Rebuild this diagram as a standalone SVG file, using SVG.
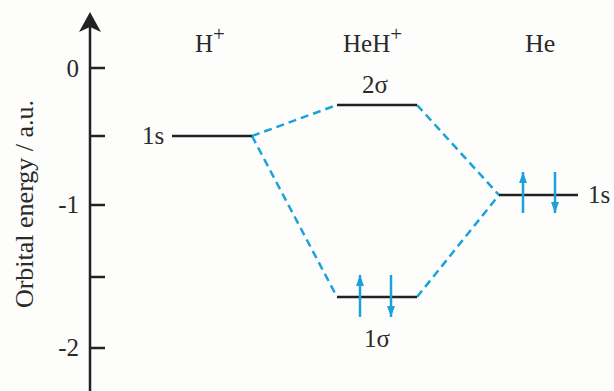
<svg xmlns="http://www.w3.org/2000/svg" width="614" height="391" viewBox="0 0 614 391">
<defs>
<style>
.t{font-family:"Liberation Serif","Times New Roman",serif;font-size:25px;fill:#2a2a2a}
.lvl{stroke:#222;stroke-width:2.5;fill:none}
.ax{stroke:#222;stroke-width:2.5;fill:none}
.dash{stroke:#1ca2da;stroke-width:2.5;stroke-dasharray:8 5;fill:none}
.e{stroke:#1ca2da;stroke-width:2.5;fill:none;marker-end:url(#ah)}
</style>
<marker id="ah" markerUnits="userSpaceOnUse" markerWidth="12" markerHeight="10" refX="11" refY="4" orient="auto">
<path d="M0,0 L11,4 L0,8 Z" fill="#1ca2da"/>
</marker>
</defs>
<rect width="614" height="391" fill="#fdfdfc"/>
<g id="axis">
<line class="ax" x1="90" y1="24" x2="90" y2="391"/>
<path d="M90,12 L101,32 L90,27 L79,32 Z" fill="#222"/>
<line class="ax" x1="90" y1="68" x2="105" y2="68"/>
<line class="ax" x1="90" y1="136" x2="105" y2="136"/>
<line class="ax" x1="90" y1="205" x2="105" y2="205"/>
<line class="ax" x1="90" y1="277" x2="105" y2="277"/>
<line class="ax" x1="90" y1="348" x2="105" y2="348"/>
<text class="t" x="79" y="77" text-anchor="end">0</text>
<text class="t" x="79" y="213" text-anchor="end">-1</text>
<text class="t" x="79" y="356" text-anchor="end">-2</text>
<text class="t" style="font-size:26px" transform="translate(33,204) rotate(-90)" text-anchor="middle">Orbital energy / a.u.</text>
</g>
<g id="headers">
<text class="t" x="195" y="52">H<tspan dy="-11" style="font-size:21px">+</tspan></text>
<text class="t" x="343" y="52">HeH<tspan dy="-11" style="font-size:21px">+</tspan></text>
<text class="t" style="font-size:26px" x="525" y="52">He</text>
</g>
<g id="connectors">
<line class="dash" x1="252" y1="136" x2="337" y2="105"/>
<line class="dash" x1="252" y1="136" x2="337" y2="297"/>
<line class="dash" x1="417" y1="105" x2="499" y2="195"/>
<line class="dash" x1="417" y1="297" x2="499" y2="195"/>
</g>
<g id="H-1s">
<line class="lvl" x1="172" y1="136" x2="252" y2="136"/>
<text class="t" x="142" y="144">1s</text>
</g>
<g id="HeH-2sigma">
<line class="lvl" x1="337" y1="105" x2="417" y2="105"/>
<text class="t" x="375" y="93" text-anchor="middle">2σ</text>
</g>
<g id="HeH-1sigma">
<line class="lvl" x1="337" y1="297" x2="417" y2="297"/>
<line class="e" x1="360" y1="317" x2="360" y2="275"/>
<line class="e" x1="391" y1="275" x2="391" y2="317"/>
<text class="t" x="377" y="347" text-anchor="middle">1σ</text>
</g>
<g id="He-1s">
<line class="lvl" x1="499" y1="195" x2="578" y2="195"/>
<line class="e" x1="523" y1="213" x2="523" y2="172"/>
<line class="e" x1="555" y1="172" x2="555" y2="213"/>
<text class="t" x="588" y="203">1s</text>
</g>
</svg>
